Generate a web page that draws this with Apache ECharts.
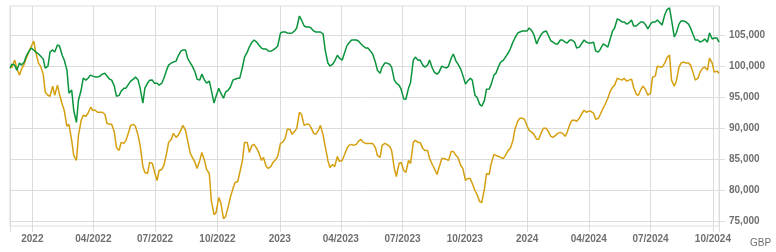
<!DOCTYPE html>
<html><head><meta charset="utf-8">
<script src="https://cdn.jsdelivr.net/npm/echarts@6/dist/echarts.min.js"></script>
<style>html,body{margin:0;padding:0;background:#fff}#c{width:776px;height:252px}</style>
</head><body><div id="c"></div><script>
// Mondays (plus last trading date)
const dates = [
'2021-11-29','2021-12-06','2021-12-13','2021-12-20','2021-12-27',
'2022-01-03','2022-01-10','2022-01-17','2022-01-24','2022-01-31','2022-02-07','2022-02-14','2022-02-21','2022-02-28',
'2022-03-07','2022-03-14','2022-03-21','2022-03-28','2022-04-04','2022-04-11','2022-04-18','2022-04-25',
'2022-05-02','2022-05-09','2022-05-16','2022-05-23','2022-05-30','2022-06-06','2022-06-13','2022-06-20','2022-06-27',
'2022-07-04','2022-07-11','2022-07-18','2022-07-25','2022-08-01','2022-08-08','2022-08-15','2022-08-22','2022-08-29',
'2022-09-05','2022-09-12','2022-09-19','2022-09-26','2022-10-03','2022-10-10','2022-10-17','2022-10-24','2022-10-31',
'2022-11-07','2022-11-14','2022-11-21','2022-11-28','2022-12-05','2022-12-12','2022-12-19','2022-12-26',
'2023-01-02','2023-01-09','2023-01-16','2023-01-23','2023-01-30','2023-02-06','2023-02-13','2023-02-20','2023-02-27',
'2023-03-06','2023-03-13','2023-03-20','2023-03-27','2023-04-03','2023-04-10','2023-04-17','2023-04-24',
'2023-05-01','2023-05-08','2023-05-15','2023-05-22','2023-05-29','2023-06-05','2023-06-12','2023-06-19','2023-06-26',
'2023-07-03','2023-07-10','2023-07-17','2023-07-24','2023-07-31','2023-08-07','2023-08-14','2023-08-21','2023-08-28',
'2023-09-04','2023-09-11','2023-09-18','2023-09-25','2023-10-02','2023-10-09','2023-10-16','2023-10-23','2023-10-30',
'2023-11-06','2023-11-13','2023-11-20','2023-11-27','2023-12-04','2023-12-11','2023-12-18','2023-12-25',
'2024-01-01','2024-01-08','2024-01-15','2024-01-22','2024-01-29','2024-02-05','2024-02-12','2024-02-19','2024-02-26',
'2024-03-04','2024-03-11','2024-03-18','2024-03-25','2024-04-01','2024-04-08','2024-04-15','2024-04-22','2024-04-29',
'2024-05-06','2024-05-13','2024-05-20','2024-05-27','2024-06-03','2024-06-10','2024-06-17','2024-06-24',
'2024-07-01','2024-07-08','2024-07-15','2024-07-22','2024-07-29','2024-08-05','2024-08-12','2024-08-19','2024-08-26',
'2024-09-02','2024-09-09','2024-09-16','2024-09-23','2024-09-30','2024-10-07','2024-10-10'
];
// Thursdays between them
const midDates = [
'2021-12-02','2021-12-09','2021-12-16','2021-12-23','2021-12-30',
'2022-01-06','2022-01-13','2022-01-20','2022-01-27','2022-02-03','2022-02-10','2022-02-17','2022-02-24',
'2022-03-03','2022-03-10','2022-03-17','2022-03-24','2022-03-31','2022-04-07','2022-04-14','2022-04-21','2022-04-28',
'2022-05-05','2022-05-12','2022-05-19','2022-05-26','2022-06-02','2022-06-09','2022-06-16','2022-06-23','2022-06-30',
'2022-07-07','2022-07-14','2022-07-21','2022-07-28','2022-08-04','2022-08-11','2022-08-18','2022-08-25',
'2022-09-01','2022-09-08','2022-09-15','2022-09-22','2022-09-29','2022-10-06','2022-10-13','2022-10-20','2022-10-27',
'2022-11-03','2022-11-10','2022-11-17','2022-11-24','2022-12-01','2022-12-08','2022-12-15','2022-12-22','2022-12-29',
'2023-01-05','2023-01-12','2023-01-19','2023-01-26','2023-02-02','2023-02-09','2023-02-16','2023-02-23',
'2023-03-02','2023-03-09','2023-03-16','2023-03-23','2023-03-30','2023-04-06','2023-04-13','2023-04-20','2023-04-27',
'2023-05-04','2023-05-11','2023-05-18','2023-05-25','2023-06-01','2023-06-08','2023-06-15','2023-06-22','2023-06-29',
'2023-07-06','2023-07-13','2023-07-20','2023-07-27','2023-08-03','2023-08-10','2023-08-17','2023-08-24','2023-08-31',
'2023-09-07','2023-09-14','2023-09-21','2023-09-28','2023-10-05','2023-10-12','2023-10-19','2023-10-26',
'2023-11-02','2023-11-09','2023-11-16','2023-11-23','2023-11-30','2023-12-07','2023-12-14','2023-12-21','2023-12-28',
'2024-01-04','2024-01-11','2024-01-18','2024-01-25','2024-02-01','2024-02-08','2024-02-15','2024-02-22','2024-02-29',
'2024-03-07','2024-03-14','2024-03-21','2024-03-28','2024-04-04','2024-04-11','2024-04-18','2024-04-25',
'2024-05-02','2024-05-09','2024-05-16','2024-05-23','2024-05-30','2024-06-06','2024-06-13','2024-06-20','2024-06-27',
'2024-07-04','2024-07-11','2024-07-18','2024-07-25','2024-08-01','2024-08-08','2024-08-15','2024-08-22','2024-08-29',
'2024-09-05','2024-09-12','2024-09-19','2024-09-26','2024-10-03'
];
const greenValues = [
99700,100150,100500,100650,102400,102600,101950,101150,100000,102600,
103400,101750,99350,96150,90950,96150,97750,98550,98250,98400,
98850,97900,96750,95300,96450,97100,97900,97750,94050,97250,
97750,97250,97250,99350,100500,100800,102400,102600,100500,99050,
97750,97750,97600,94050,96450,94850,96150,97750,98050,99850,
102250,103850,103850,102900,102750,102400,102900,105300,105500,105300,
105650,108050,106450,106300,105650,105500,105150,100500,100300,101750,
100950,103250,104200,104200,103550,102900,102400,100650,98850,100500,
100300,97750,96950,94700,96450,100950,100950,100150,100150,99700,
98700,100000,99700,101300,100800,99500,97100,98050,95300,93850,
94500,96300,98550,100000,100950,102100,103850,105300,105650,105650,
105650,103550,105150,105650,104050,103550,104200,103850,104200,103850,
103050,104200,103700,103850,102250,103550,103050,105650,107600,107100,
106750,107400,106450,107100,106600,106750,107100,106950,108250,109350,
104700,106750,107250,106750,105000,104200,104050,103850,104350,104500,
103850
];
const greenMidValues = [
100320,99350,100160,101610,102900,102260,101610,99680,102260,102260,
103230,100970,95650,92900,94520,98060,98060,98390,98230,98710,
98390,97740,95160,95970,96450,97580,98230,96450,96450,97740,
97260,96940,98060,100160,100650,101610,102580,101290,100000,97900,
98710,97260,96130,95160,95650,95810,96610,97900,98060,101450,
103060,104190,103390,102740,102420,102580,103230,105480,105320,105320,
106130,107420,106290,106130,105480,105480,102580,100000,100810,101290,
101940,103710,104190,104030,103230,102900,101940,99350,99840,100480,
99840,97260,96290,94680,97420,101450,100970,99840,100970,99030,
99030,99840,100000,101940,100320,98550,97580,97740,95000,93550,
96290,97100,98870,100650,101450,102740,104520,105480,105650,106130,
105000,104350,105480,105000,103870,103550,104190,103710,104190,102900,
103550,103870,103710,102420,102740,103390,104190,106130,107420,107100,
106940,106450,106770,107100,105970,107100,107420,106610,109030,107420,
105320,107260,107100,106130,104190,103870,104350,105320,104520
];
const goldValues = [
99680,100970,98550,100320,102260,104030,100480,98710,95320,96770,
96940,93870,90320,88060,84840,91290,91940,93390,92900,92580,
92260,90640,89350,86450,87580,89350,90640,88870,83870,82740,
84350,81610,83390,85970,88230,88550,89680,89680,85970,84520,
84840,84840,82740,76130,78870,75480,77420,80320,81450,84840,
87740,87260,86770,84840,83870,83870,85000,87580,88390,89840,
89520,92580,90480,90640,89190,89680,88870,84840,84190,85480,
84840,86770,87420,87420,88230,87580,87580,86930,85320,87580,
87100,83550,84350,83220,84840,87740,87740,86770,86450,84190,
82580,85160,85000,86290,85640,84030,81610,81930,80000,78220,
80320,82580,85810,85480,85160,86450,88060,91130,91610,90320,
89350,88230,89350,90000,88710,88870,89350,88710,90640,91290,
91610,92900,92740,92420,91610,93230,94840,96610,98060,97740,
97580,97900,95480,96290,96130,95650,98390,99840,100480,101770,
96770,99840,100650,100480,98870,98060,99680,99350,100480,99190,
98870
];
const goldMidValues = [
99840,99680,99520,101290,103060,102260,100000,95810,95160,95320,
95480,92900,90640,85640,88870,92100,92420,92900,92580,92580,
90810,90640,86930,87740,88060,90480,90320,87260,82900,84520,
83060,83220,84030,87740,89190,88870,90480,88060,85320,83550,
86130,83390,78390,76450,78060,75800,78870,81290,82900,87740,
86130,87420,86130,85320,83550,84520,85480,87740,89840,89030,
90000,92260,90640,90160,89030,90480,87100,83710,83870,84680,
85640,87260,87260,87900,87740,87580,87580,85640,87260,87420,
86450,82260,84520,82900,84350,88060,87740,86450,85160,83550,
83710,85160,84840,86290,85320,83550,81930,81130,79350,78060,
82740,84350,85640,85320,85640,86770,89840,91610,91450,89680,
89030,88230,90000,89520,88550,89190,89190,89350,91290,91130,
92260,92580,92740,91450,92260,93870,95810,96940,97900,98060,
97740,96610,95320,96770,95320,98230,100000,99840,101290,97740,
97580,100480,100480,100160,97740,99030,99840,101290,99030
];
const xTickDates = ['2021-11-29','2022-01-01','2022-04-01','2022-07-01','2022-10-01','2023-01-01','2023-04-01','2023-07-01','2023-10-01','2024-01-01','2024-04-01','2024-07-01','2024-10-01','2024-10-10'];
const xLabelDates = ['2022-01-01','2022-04-01','2022-07-01','2022-10-01','2023-01-01','2023-04-01','2023-07-01','2023-10-01','2024-01-01','2024-04-01','2024-07-01','2024-10-01'];
const yTickValues = [75000,80000,85000,90000,95000,100000,105000];
const yMin = 74300, yMax = 109660;
const currency = 'GBP';

function ts(s){const p=s.split('-').map(Number);return new Date(p[0],p[1]-1,p[2]).getTime();}
function build(main, mid){
  const out=[];
  for(let i=0;i<dates.length;i++){
    out.push([ts(dates[i]),main[i]]);
    if(i<midDates.length) out.push([ts(midDates[i]),mid[i]]);
  }
  out.sort((a,b)=>a[0]-b[0]);
  return out;
}
const gridColor = '#dcdcdc';
const labelColor = '#6f6f6f';
const chart = echarts.init(document.getElementById('c'), null, {renderer:'canvas'});
chart.setOption({
  animation:false,
  grid:{left:10,right:57,top:6,bottom:26,show:true,borderColor:gridColor,borderWidth:1,containLabel:false},
  xAxis:{
    type:'value', min:ts(dates[0]), max:ts(dates[dates.length-1]),
    axisLine:{show:false},
    axisTick:{show:true,length:6,lineStyle:{color:gridColor},customValues:xTickDates.map(ts)},
    axisLabel:{customValues:xLabelDates.map(ts),fontSize:10,fontWeight:'bold',color:labelColor,margin:8,
      fontFamily:'Arial, Liberation Sans, sans-serif',
      formatter:function(v){const d=new Date(v);const m=d.getMonth()+1;return m===1?String(d.getFullYear()):(m<10?'0':'')+m+'/'+d.getFullYear();}},
    splitLine:{show:true,lineStyle:{color:gridColor,width:1}}
  },
  yAxis:{
    type:'value', position:'right', min:yMin, max:yMax,
    axisLine:{show:false},
    axisTick:{show:true,length:6,lineStyle:{color:gridColor},customValues:yTickValues},
    axisLabel:{customValues:yTickValues,fontSize:10,fontWeight:'bold',color:labelColor,margin:10,
      fontFamily:'Arial, Liberation Sans, sans-serif',
      formatter:function(v){return Number(v).toLocaleString('en-US');}},
    splitLine:{show:true,lineStyle:{color:gridColor,width:1}}
  },
  graphic:[{type:'text',left:750,top:238,style:{text:currency,fontSize:10,fill:labelColor,fontFamily:'Arial, Liberation Sans, sans-serif'}}],
  series:[
    {name:'gold',type:'line',showSymbol:false,data:build(goldValues,goldMidValues),lineStyle:{color:'#d59f0f',width:1.5},itemStyle:{color:'#d59f0f'}},
    {name:'green',type:'line',showSymbol:false,data:build(greenValues,greenMidValues),lineStyle:{color:'#0a943c',width:1.5},itemStyle:{color:'#0a943c'}}
  ]
});
</script></body></html>
